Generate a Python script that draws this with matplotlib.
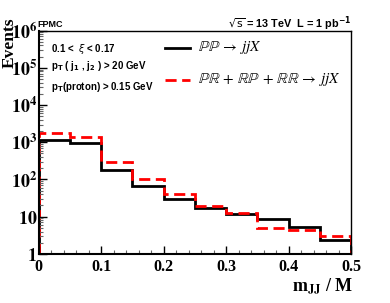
import matplotlib
matplotlib.use("Agg")
import matplotlib.pyplot as plt
import matplotlib.ticker as mticker
import numpy as np

plt.rcParams['mathtext.fontset'] = 'stix'

# bin edges in m_JJ / M
edges = [0.0, 0.05, 0.10, 0.15, 0.20, 0.25, 0.30, 0.35, 0.40, 0.45, 0.50]
# PP -> jjX (black solid)
pp = [1150, 930, 180, 68, 29, 17, 12, 8.5, 5.2, 2.3]
# PR + RP + RR -> jjX (red dashed)
pr_rr = [1820, 1400, 293, 100, 40, 19, 12.8, 4.9, 4.4, 3.0]

fig = plt.figure(figsize=(3.9, 3.03), dpi=100)
ax = fig.add_axes([0.099, 0.162, 0.801, 0.737])

ax.stairs(pp, edges, baseline=1, color='black', lw=2)
ax.stairs(pr_rr, edges, baseline=1, color='red', lw=2, ls=(0, (4, 2)))

ax.set_yscale('log')
ax.set_xlim(0, 0.5)
ax.set_ylim(1, 1e6)

serif = 'Liberation Serif'
sans = 'Liberation Sans'

def ylab(v, pos):
    if v == 1:
        return r'$\mathbf{1}$'
    if v == 10:
        return r'$\mathbf{10}$'
    return r'$\mathbf{10^{%d}}$' % int(round(np.log10(v)))

ax.yaxis.set_major_locator(mticker.LogLocator(base=10, numticks=10))
ax.yaxis.set_minor_locator(mticker.LogLocator(base=10, subs=np.arange(2, 10), numticks=20))
ax.yaxis.set_major_formatter(mticker.FuncFormatter(ylab))
ax.yaxis.set_minor_formatter(mticker.NullFormatter())

ax.xaxis.set_major_locator(mticker.MultipleLocator(0.1))
ax.xaxis.set_minor_locator(mticker.MultipleLocator(0.02))
ax.xaxis.set_major_formatter(mticker.FuncFormatter(lambda v, p: '0' if v == 0 else '%.1f' % v))

ax.tick_params(which='both', direction='in', top=False, right=False)
ax.tick_params(which='major', length=6, width=1)
ax.tick_params(which='minor', length=3, width=0.8, color='#666666')
ax.tick_params(axis='y', labelsize=13, pad=1)
ax.tick_params(axis='x', labelsize=11.5, pad=4)
for lab in ax.get_xticklabels():
    lab.set_fontfamily(serif)
    lab.set_fontweight('bold')

for sp in ax.spines.values():
    sp.set_linewidth(1)
ax.spines['left'].set_linewidth(1.5)
ax.spines['bottom'].set_linewidth(1.5)

ax.set_ylabel('Events', fontfamily=serif, fontweight='bold', fontsize=12.5, labelpad=0)
ax.yaxis.set_label_coords(-0.068, 0.945)
ax.set_xlabel(r'm$_{\mathbf{JJ}}$ / M', fontfamily=serif, fontweight='bold', fontsize=13)
ax.xaxis.set_label_coords(0.91, -0.1)

fig.text(0.097, 0.91, 'FPMC', fontsize=6.5, fontweight='bold', fontfamily=sans)
fig.text(0.9, 0.91, r'$\sqrt{\rm s}$ = 13 TeV  L = 1 pb$^{\mathbf{-1}}$', fontsize=7.8,
         fontweight='bold', fontfamily=sans, ha='right', math_fontfamily='dejavusans')

ax.text(0.04, 0.95, r'0.1 <  $\xi$ < 0.17', transform=ax.transAxes, fontsize=7,
        fontweight='bold', fontfamily=sans, va='top', math_fontfamily='dejavusans')
ax.text(0.04, 0.875, r'p$_{\mathbf{T}}$ ( j$_{\mathbf{1}}$ , j$_{\mathbf{2}}$ ) > 20 GeV',
        transform=ax.transAxes, fontsize=7, fontweight='bold', fontfamily=sans, va='top',
        math_fontfamily='dejavusans')
ax.text(0.04, 0.78, r'p$_{\mathbf{T}}$(proton) > 0.15 GeV', transform=ax.transAxes,
        fontsize=7, fontweight='bold', fontfamily=sans, va='top', math_fontfamily='dejavusans')

# legend drawn by hand to match ROOT layout
ax.plot([0.404, 0.484], [0.924, 0.924], transform=ax.transAxes, color='black', lw=2)
ax.text(0.51, 0.924, r'$\mathbb{P}\mathbb{P}\,\rightarrow\,jjX$', transform=ax.transAxes,
        fontsize=11, va='center')
ax.plot([0.404, 0.484], [0.78, 0.78], transform=ax.transAxes, color='red', lw=2,
        ls=(0, (4, 2)))
ax.text(0.51, 0.78, r'$\mathbb{P}\mathbb{R}\,+\,\mathbb{R}\mathbb{P}\,+\,\mathbb{R}\mathbb{R}\,\rightarrow\,jjX$',
        transform=ax.transAxes, fontsize=11, va='center')

fig.savefig('out.png', dpi=100)
